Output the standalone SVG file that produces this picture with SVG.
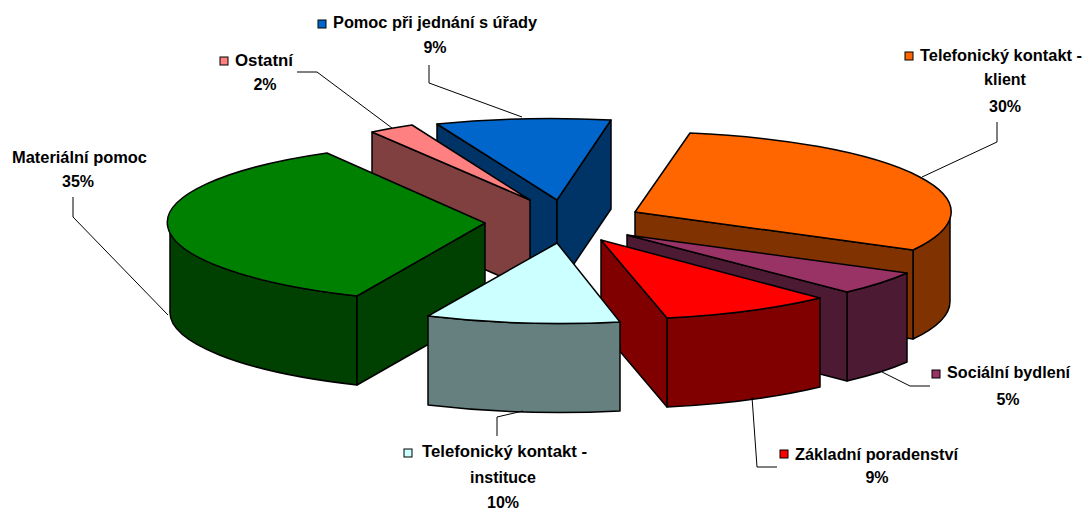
<svg xmlns="http://www.w3.org/2000/svg" width="1090" height="512" viewBox="0 0 1090 512">
<style>
.e{stroke:#000;stroke-width:1.5;stroke-linejoin:round}
.l{fill:none;stroke:#000;stroke-width:1}
.t{font-family:"Liberation Sans",Arial,sans-serif;font-weight:bold;font-size:16px;fill:#000}
.c{text-anchor:middle}
.k{stroke:#000;stroke-width:1}
</style>
<rect width="1090" height="512" fill="#fff"/>
<g id="slice-pomoc">
<path class="e" fill="#003366" d="M437,124 L557,200 L557,289 L437,213 Z"/>
<path class="e" fill="#003366" d="M557,200 L611,120 L611,209 L557,289 Z"/>
<path class="e" fill="#0066CC" d="M557,200 L437,124 A315,80 0 0,1 611,120 Z"/>
</g>
<g id="slice-ostatni">
<path class="e" fill="#804040" d="M372,132 L530,200 L530,289 L372,221 Z"/>
<path class="e" fill="#FF8080" d="M530,200 L372,132 A315,80 0 0,1 412,125 Z"/>
</g>
<g id="slice-materialni">
<path class="e" fill="#004000" d="M170,221 A315,80 0 0,0 357,296 L357,385 A315,80 0 0,1 170,310 Z"/>
<path class="e" fill="#004000" d="M357,296 L485,223 L485,312 L357,385 Z"/>
<path class="e" fill="#008000" d="M485,223 L327,153 A315,80 0 0,0 357,296 Z"/>
</g>
<g id="slice-klient">
<path class="e" fill="#803300" d="M950,212 A315,80 0 0,1 913,250 L913,339 A315,80 0 0,0 950,301 Z"/>
<path class="e" fill="#803300" d="M635,212 L913,250 L913,339 L635,301 Z"/>
<path class="e" fill="#FF6600" d="M635,212 L690,133 A315,80 0 0,1 913,250 Z"/>
</g>
<g id="slice-socialni">
<path class="e" fill="#4D1A33" d="M907,273 A315,80 0 0,1 847,292 L847,381 A315,80 0 0,0 907,362 Z"/>
<path class="e" fill="#4D1A33" d="M627,235 L847,292 L847,381 L627,324 Z"/>
<path class="e" fill="#993366" d="M627,235 L907,273 A315,80 0 0,1 847,292 Z"/>
</g>
<g id="slice-zakladni">
<path class="e" fill="#800000" d="M820,298 A315,80 0 0,1 667,318 L667,407 A315,80 0 0,0 820,387 Z"/>
<path class="e" fill="#800000" d="M601,240 L667,318 L667,407 L601,329 Z"/>
<path class="e" fill="#FF0000" d="M601,240 L820,298 A315,80 0 0,1 667,318 Z"/>
</g>
<g id="slice-instituce">
<path class="e" fill="#668080" d="M620,322 A315,80 0 0,1 428,316 L428,405 A315,80 0 0,0 620,411 Z"/>
<path class="e" fill="#CCFFFF" d="M557,243 L620,322 A315,80 0 0,1 428,316 Z"/>
</g>
<g id="connectors">
<polyline class="l" points="429,65 429,83 522,117"/>
<polyline class="l" points="297,72 317,72 392,128"/>
<polyline class="l" points="73,197 73,217 168,315"/>
<polyline class="l" points="997,122 997,142 922,177"/>
<polyline class="l" points="930,386 910,386 882,372"/>
<polyline class="l" points="777,467 757,467 752,397"/>
<polyline class="l" points="497,436 497,417 523,411"/>
</g>
<g id="label-pomoc">
<rect class="k" x="318" y="20" width="8" height="8" fill="#0066CC"/>
<text class="t" x="333" y="28" textLength="204" lengthAdjust="spacingAndGlyphs">Pomoc při jednání s úřady</text>
<text class="t c" x="435" y="53">9%</text>
</g>
<g id="label-ostatni">
<rect class="k" x="220" y="57" width="8" height="8" fill="#FF8080"/>
<text class="t" x="235" y="66" textLength="58" lengthAdjust="spacingAndGlyphs">Ostatní</text>
<text class="t c" x="265" y="90">2%</text>
</g>
<g id="label-materialni">
<text class="t" x="12" y="163" textLength="135" lengthAdjust="spacingAndGlyphs">Materiální pomoc</text>
<text class="t c" x="78" y="187">35%</text>
</g>
<g id="label-klient">
<rect class="k" x="905" y="52" width="8" height="8" fill="#FF6600"/>
<text class="t" x="920" y="61" textLength="162" lengthAdjust="spacingAndGlyphs">Telefonický kontakt -</text>
<text class="t c" x="1005" y="85">klient</text>
<text class="t c" x="1005" y="112">30%</text>
</g>
<g id="label-socialni">
<rect class="k" x="932" y="370" width="8" height="8" fill="#993366"/>
<text class="t" x="947" y="378" textLength="123" lengthAdjust="spacingAndGlyphs">Sociální bydlení</text>
<text class="t c" x="1008" y="405">5%</text>
</g>
<g id="label-zakladni">
<rect class="k" x="780" y="450" width="8" height="8" fill="#FF0000"/>
<text class="t" x="795" y="460" textLength="163" lengthAdjust="spacingAndGlyphs">Základní poradenství</text>
<text class="t c" x="877" y="483">9%</text>
</g>
<g id="label-instituce">
<rect class="k" x="404" y="449" width="8" height="8" fill="#CCFFFF"/>
<text class="t" x="422" y="457" textLength="165" lengthAdjust="spacingAndGlyphs">Telefonický kontakt -</text>
<text class="t c" x="503" y="483">instituce</text>
<text class="t c" x="503" y="508">10%</text>
</g>
</svg>
